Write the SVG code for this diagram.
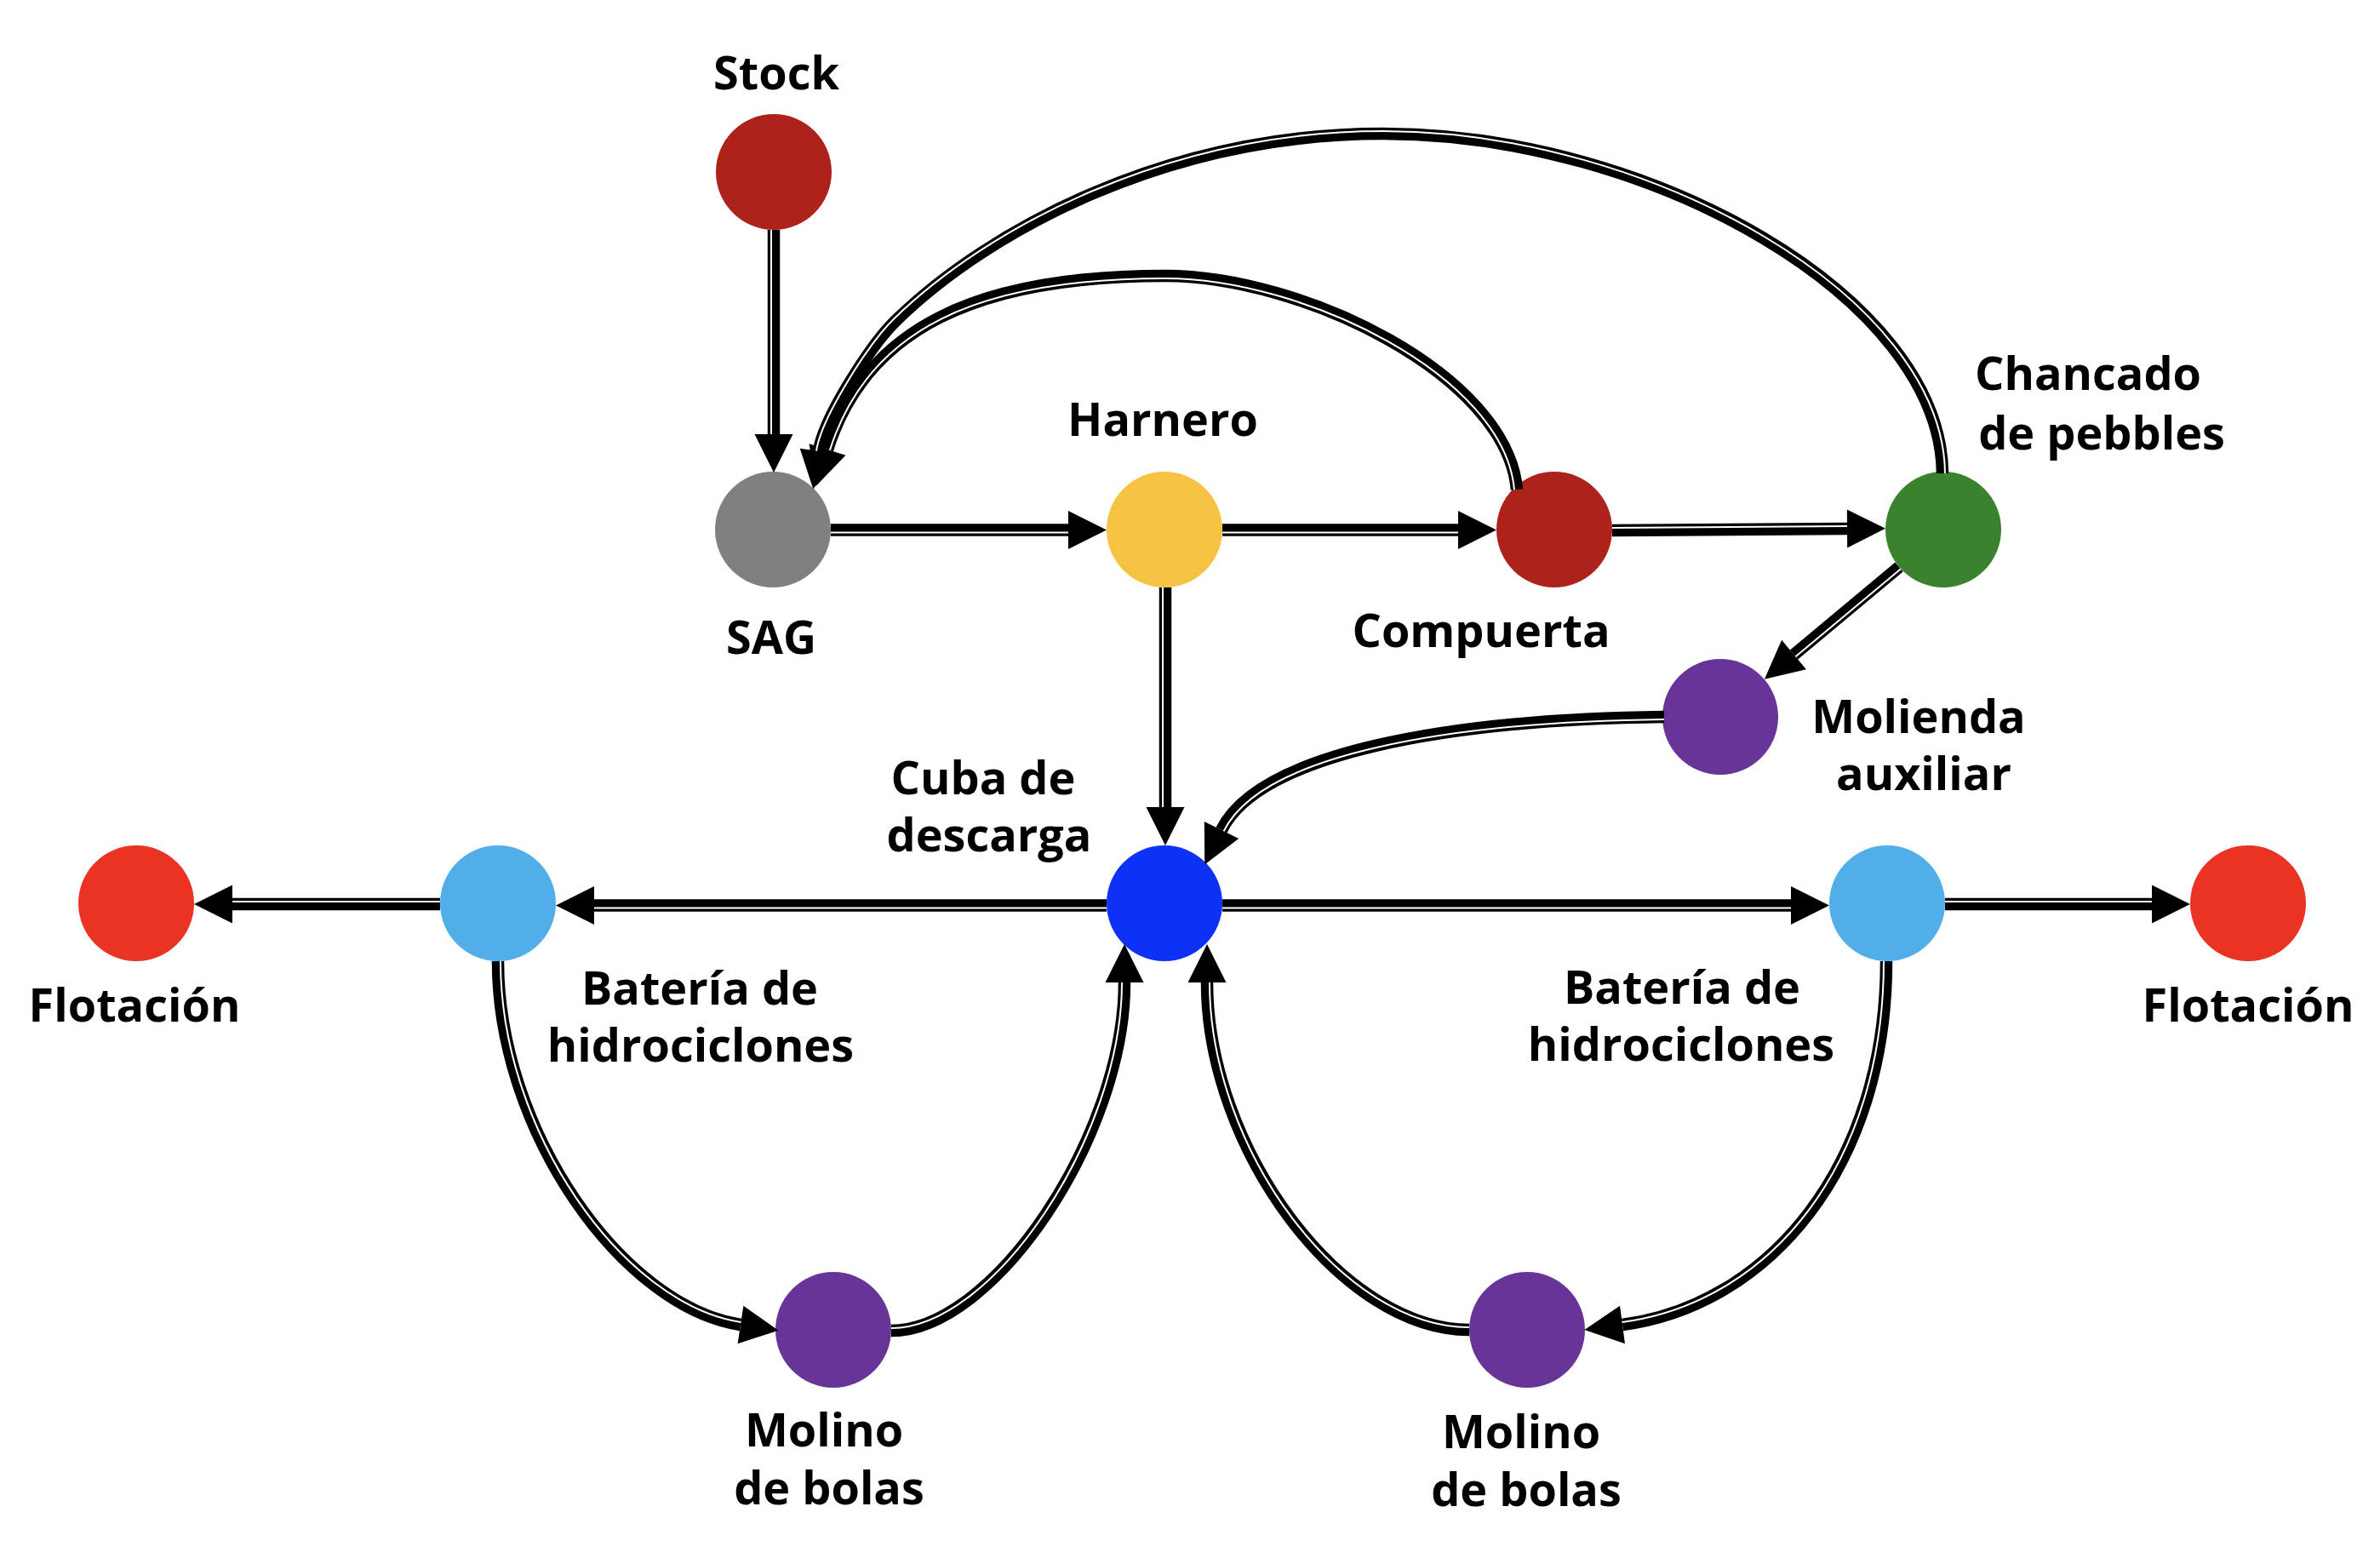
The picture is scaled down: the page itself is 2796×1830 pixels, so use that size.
<svg xmlns="http://www.w3.org/2000/svg" width="2796" height="1830" viewBox="0 0 2796 1830">
<style>
.lbl{font-family:"Open Sans","Noto Sans","DejaVu Sans",sans-serif;font-weight:700;font-size:54px;text-anchor:middle;fill:#000}
.e{fill:none;stroke:#000;stroke-width:14.5;marker-end:url(#ah)}
.w{fill:none;stroke:#fff;stroke-width:2}
</style>
<defs>
<marker id="ah" markerUnits="userSpaceOnUse" markerWidth="46" markerHeight="46" viewBox="0 -23 46 46" refX="0" refY="0" orient="auto" overflow="visible"><path d="M0,-22.5 L45,0 L0,22.5 Z" fill="#000"/></marker>
</defs>
<rect width="2796" height="1830" fill="#fff"/>
<g id="nodes">
<g id="n-stock"><circle cx="909" cy="202" r="68" fill="#AD231C"/><text class="lbl" x="912" y="105">Stock</text></g>
<g id="n-sag"><circle cx="908" cy="622" r="68" fill="#808080"/><text class="lbl" x="906" y="768">SAG</text></g>
<g id="n-harnero"><circle cx="1368" cy="622" r="68" fill="#F5C242"/><text class="lbl" x="1366" y="512">Harnero</text></g>
<g id="n-compuerta"><circle cx="1826" cy="622" r="68" fill="#AD231C"/><text class="lbl" x="1740" y="760">Compuerta</text></g>
<g id="n-chancado"><circle cx="2283" cy="622" r="68" fill="#3B822E"/><text class="lbl" x="2453" y="458">Chancado</text><text class="lbl" x="2469" y="528">de pebbles</text></g>
<g id="n-molienda"><circle cx="2021" cy="842" r="68" fill="#673598"/><text class="lbl" x="2254" y="861">Molienda</text><text class="lbl" x="2260" y="928">auxiliar</text></g>
<g id="n-cuba"><circle cx="1368" cy="1061" r="68" fill="#0E32F5"/><text class="lbl" x="1155" y="933">Cuba de</text><text class="lbl" x="1162" y="1000">descarga</text></g>
<g id="n-bat-l"><circle cx="585" cy="1061" r="68" fill="#52AEE8"/><text class="lbl" x="822" y="1180">Batería de</text><text class="lbl" x="823" y="1247">hidrociclones</text></g>
<g id="n-flot-l"><circle cx="160" cy="1061" r="68" fill="#E93424"/><text class="lbl" x="158" y="1200">Flotación</text></g>
<g id="n-bat-r"><circle cx="2217" cy="1061" r="68" fill="#52AEE8"/><text class="lbl" x="1976" y="1179">Batería de</text><text class="lbl" x="1975" y="1246">hidrociclones</text></g>
<g id="n-flot-r"><circle cx="2641" cy="1061" r="68" fill="#E93424"/><text class="lbl" x="2641" y="1200">Flotación</text></g>
<g id="n-molino-l"><circle cx="979" cy="1562" r="68" fill="#673598"/><text class="lbl" x="968" y="1699">Molino</text><text class="lbl" x="974" y="1767">de bolas</text></g>
<g id="n-molino-r"><circle cx="1794" cy="1562" r="68" fill="#673598"/><text class="lbl" x="1787" y="1701">Molino</text><text class="lbl" x="1793" y="1769">de bolas</text></g>
</g>
<g id="edges">
<g id="e-stock-sag"><path class="e" d="M909,270 L909,510"/><path class="w" d="M906,270 L906,510"/></g>
<g id="e-sag-harnero"><path class="e" d="M976,622.5 L1255,622.5"/><path class="w" d="M976,625.5 L1255,625.5"/></g>
<g id="e-harnero-compuerta"><path class="e" d="M1436,622.5 L1713,622.5"/><path class="w" d="M1436,625.5 L1713,625.5"/></g>
<g id="e-compuerta-chancado"><path class="e" d="M1894,623 L2170,621"/><path class="w" d="M1894,620 L2170,618"/></g>
<g id="e-harnero-cuba"><path class="e" d="M1369,690 L1369,948"/><path class="w" d="M1366,690 L1366,948"/></g>
<g id="e-chancado-molienda"><path class="e" d="M2231,666 L2107.5,769"/><path class="w" d="M2233,668.3 L2109.4,771.3"/></g>
<g id="e-compuerta-sag"><path class="e" d="M1782,575 C1770,440 1530,324 1369,324 C1149,324 1017,385 972,528"/><path class="w" d="M1779,575.3 C1767,440.3 1530,327 1369,327 C1149,327 1019.9,385.9 974.9,528.9"/></g>
<g id="e-chancado-sag"><path class="e" d="M2282,556 C2280,350 1940,157 1625,157 C1370,157 1161,271 1053,376 C1024,404 968,490 962,530"/><path class="w" d="M2285,556 C2283,350 1940,154 1625,154 C1370,154 1158.9,268.8 1050.9,373.8 C1021.9,401.8 965,489.6 959,529.6"/></g>
<g id="e-molienda-cuba"><path class="e" d="M1955,842 C1700,845 1479,885 1435,975"/><path class="w" d="M1955,845 C1700,848 1481.7,886.3 1437.7,976.3"/></g>
<g id="e-cuba-batl"><path class="e" d="M1300,1063.5 L698,1063.5"/><path class="w" d="M1300,1066.5 L698,1066.5"/></g>
<g id="e-batl-flotl"><path class="e" d="M517,1062 L273,1062"/><path class="w" d="M517,1059 L273,1059"/></g>
<g id="e-cuba-batr"><path class="e" d="M1436,1063.5 L2104,1063.5"/><path class="w" d="M1436,1066.5 L2104,1066.5"/></g>
<g id="e-batr-flotr"><path class="e" d="M2285,1062 L2528,1062"/><path class="w" d="M2285,1059 L2528,1059"/></g>
<g id="e-batl-molinol"><path class="e" d="M585,1129 C585,1329 732,1535 870,1556"/><path class="w" d="M588,1129 C588,1329 732.45,1532 870.45,1553"/></g>
<g id="e-molinol-cuba"><path class="e" d="M1047,1563 C1167,1563 1321,1334 1321,1154"/><path class="w" d="M1047,1560 C1167,1560 1318,1334 1318,1154"/></g>
<g id="e-batr-molinor"><path class="e" d="M2216,1129 C2216,1369 2079,1533 1906,1556"/><path class="w" d="M2213,1129 C2213,1369 2078.6,1530 1905.6,1553"/></g>
<g id="e-molinor-cuba"><path class="e" d="M1726,1562 C1576,1562 1418,1349 1418,1154"/><path class="w" d="M1726,1559 C1576,1559 1421,1349 1421,1154"/></g>
</g>
</svg>
